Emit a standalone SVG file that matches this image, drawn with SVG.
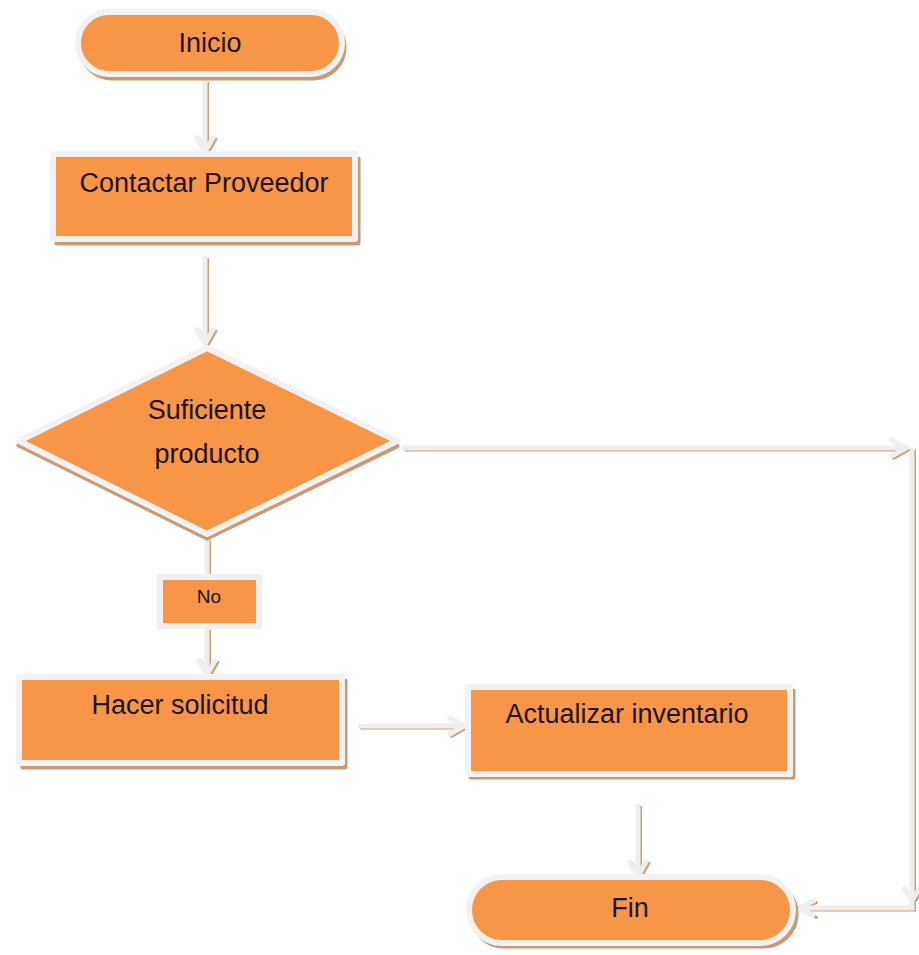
<svg xmlns="http://www.w3.org/2000/svg" width="919" height="955" viewBox="0 0 919 955">
<defs>
<style>
.sh{fill:#c99a74;stroke:#c99a74;stroke-width:5;stroke-linejoin:round}
.nd{fill:#f79646;stroke:#f2f2f2;stroke-width:6;stroke-linejoin:round}
.t{font-family:"Liberation Sans",Arial,sans-serif;font-size:27px;fill:#1c1212;text-anchor:middle}
.ts{font-family:"Liberation Sans",Arial,sans-serif;font-size:19px;fill:#1c1212;text-anchor:middle}
.wsh{fill:none;stroke:#cf9f78;stroke-width:3;stroke-linecap:butt;stroke-linejoin:miter}
.wln{fill:none;stroke:#eeeeee;stroke-width:5;stroke-linecap:butt;stroke-linejoin:miter}
</style>
</defs>
<rect width="919" height="955" fill="#ffffff"/>

<g id="connectors">
<g id="conn-shadow" class="wsh" transform="translate(2.5,2)">
<path d="M205 80 V152 M196 136 L205 152 L214 136"/>
<path d="M205 256 V344 M196 328 L205 344 L214 328"/>
<path d="M402 448 H906 M890 439 L906 448 L890 457"/>
<path d="M912 448 V908 H799 M903 887 L912 900 L921 887 M815 900 L799 908 L815 916"/>
<path d="M207 538 V574"/>
<path d="M207 628 V675 M198 659 L207 675 L216 659"/>
<path d="M358 726 H464 M448 717 L464 726 L448 735"/>
<path d="M638 804 V876 M629 860 L638 876 L647 860"/>
</g>
<g id="conn-line" class="wln">
<path d="M205 80 V152 M196 136 L205 152 L214 136"/>
<path d="M205 256 V344 M196 328 L205 344 L214 328"/>
<path d="M402 448 H906 M890 439 L906 448 L890 457"/>
<path d="M912 448 V908 H799 M903 887 L912 900 L921 887 M815 900 L799 908 L815 916"/>
<path d="M207 538 V574"/>
<path d="M207 628 V675 M198 659 L207 675 L216 659"/>
<path d="M358 726 H464 M448 717 L464 726 L448 735"/>
<path d="M638 804 V876 M629 860 L638 876 L647 860"/>
</g>
</g>

<g id="inicio">
<rect class="sh" x="81" y="17" width="263" height="61" rx="30.5"/>
<rect class="nd" x="78" y="12" width="264" height="62" rx="31"/>
<text class="t" x="210" y="52">Inicio</text>
</g>

<g id="contactar">
<rect class="sh" x="57" y="159" width="301" height="84"/>
<rect class="nd" x="53" y="154" width="302" height="85"/>
<text class="t" x="204" y="192">Contactar Proveedor</text>
</g>

<g id="suficiente">
<polygon class="sh" points="207,353 397,446 207,538 19,445"/>
<polygon class="nd" points="207,348 397,441 207,534 19,441"/>
<text class="t" x="207" y="419">Suficiente</text>
<text class="t" x="207" y="463">producto</text>
</g>

<g id="no">
<rect x="160" y="577" width="99" height="49" fill="#f79646" stroke="#f0f0f0" stroke-width="6"/>
<text class="ts" x="209" y="603">No</text>
</g>

<g id="hacer">
<rect class="sh" x="23" y="681" width="322" height="86"/>
<rect class="nd" x="19" y="677" width="323" height="86"/>
<text class="t" x="180" y="714">Hacer solicitud</text>
</g>

<g id="actualizar">
<rect class="sh" x="471" y="691" width="322" height="86"/>
<rect class="nd" x="468" y="687" width="322" height="87"/>
<text class="t" x="627" y="723">Actualizar inventario</text>
</g>

<g id="fin">
<rect class="sh" x="472" y="882" width="324" height="64" rx="32"/>
<rect class="nd" x="469" y="877" width="324" height="66" rx="33"/>
<text class="t" x="630" y="917">Fin</text>
</g>
</svg>
